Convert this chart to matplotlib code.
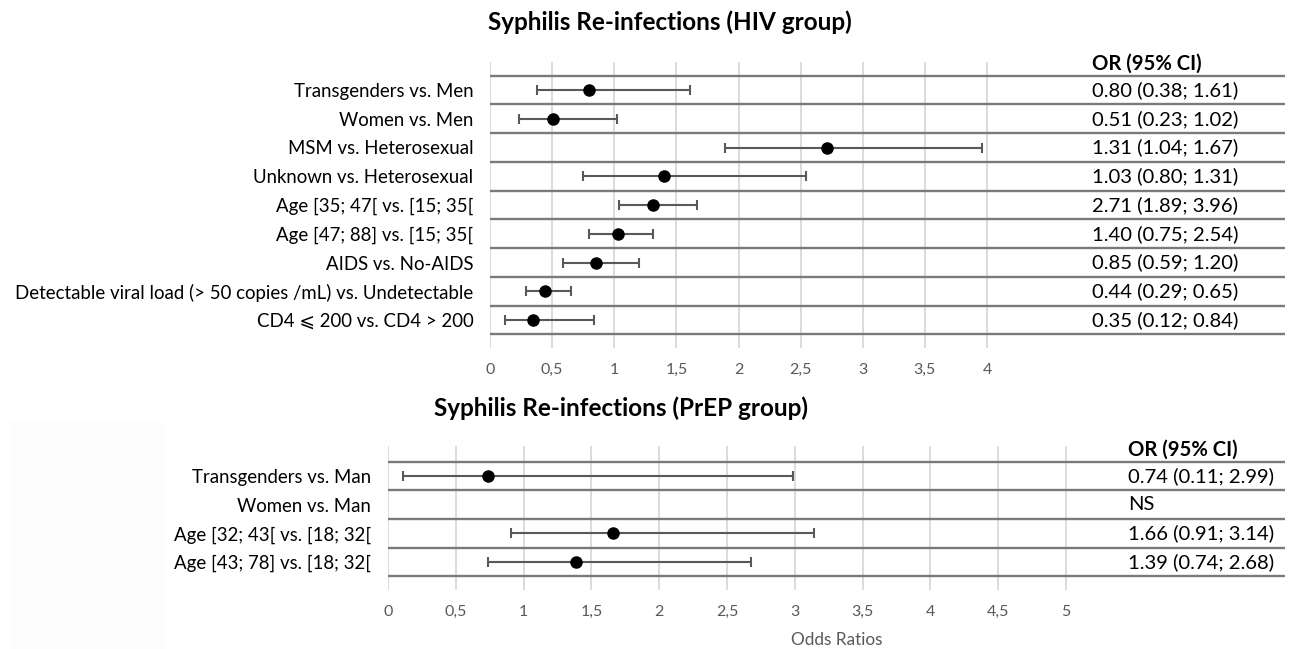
import numpy as np
import matplotlib
matplotlib.use("Agg")
from matplotlib import pyplot as plt
from matplotlib.patches import Rectangle

# ---- DATA ----

# HIV group (plotted values)
hiv_labels = [
    "Transgenders vs. Men",
    "Women vs. Men",
    "MSM vs. Heterosexual",
    "Unknown vs. Heterosexual",
    "Age [35; 47[ vs. [15; 35[",
    "Age [47; 88] vs. [15; 35[",
    "AIDS vs. No-AIDS",
    "Detectable viral load (> 50 copies /mL) vs. Undetectable",
    "CD4 \u2a7d 200 vs. CD4 > 200",
]
hiv_or = [0.80, 0.51, 2.71, 1.40, 1.31, 1.03, 0.85, 0.44, 0.35]
hiv_lo = [0.38, 0.23, 1.89, 0.75, 1.04, 0.80, 0.59, 0.29, 0.12]
hiv_hi = [1.61, 1.02, 3.96, 2.54, 1.67, 1.31, 1.20, 0.65, 0.84]
# table column as printed in the figure
hiv_table = [
    "0.80 (0.38; 1.61)",
    "0.51 (0.23; 1.02)",
    "1.31 (1.04; 1.67)",
    "1.03 (0.80; 1.31)",
    "2.71 (1.89; 3.96)",
    "1.40 (0.75; 2.54)",
    "0.85 (0.59; 1.20)",
    "0.44 (0.29; 0.65)",
    "0.35 (0.12; 0.84)",
]
hiv_ticks = [0, 0.5, 1, 1.5, 2, 2.5, 3, 3.5, 4]

# PrEP group
prep_labels = [
    "Transgenders vs. Man",
    "Women vs. Man",
    "Age [32; 43[ vs. [18; 32[",
    "Age [43; 78] vs. [18; 32[",
]
prep_or = [0.74, np.nan, 1.66, 1.39]
prep_lo = [0.11, np.nan, 0.91, 0.74]
prep_hi = [2.99, np.nan, 3.14, 2.68]
prep_table = [
    "0.74 (0.11; 2.99)",
    "NS",
    "1.66 (0.91; 3.14)",
    "1.39 (0.74; 2.68)",
]
prep_ticks = [0, 0.5, 1, 1.5, 2, 2.5, 3, 3.5, 4, 4.5, 5]

# ---- STYLE ----
plt.rcParams['font.family'] = ['Lato', 'DejaVu Sans']
W, H = 1291, 649
LINE_C = "#7a7a7a"
GRID_C = "#d9d9d9"
ERR_C = "#595959"
TICK_C = "#595959"
LABEL_FS = 13.4
TABLE_FS = 14.6
TICK_FS = 11.5
TITLE_FS = 17.5


def px_box(left, top, right, bottom):
    # figure-fraction box from pixel edges
    return [left / W, 1 - bottom / H, (right - left) / W, (bottom - top) / H]


def to_text(v):
    return f"{v:g}".replace(".", ",")


def forest_panel(fig, box, px_per_unit, row0_px, row_px, top_px, bottom_px,
                 labels, ors, los, his, table, ticks, table_x_px, left_px):
    ax = fig.add_axes(box)
    n = len(labels)
    right_px = box[0] * W + box[2] * W
    ax.set_xlim(0, (right_px - left_px) / px_per_unit)
    ax.set_ylim(n - 1 + (bottom_px - (row0_px + (n - 1) * row_px)) / row_px,
                -(row0_px - top_px) / row_px)

    ax.set_xticks(ticks)
    ax.set_xticklabels([to_text(t) for t in ticks], color=TICK_C, fontsize=TICK_FS)
    ax.set_yticks(range(n))
    ax.set_yticklabels(labels, fontsize=LABEL_FS, color="black")
    ax.tick_params(axis="both", length=0)
    ax.tick_params(axis="x", pad=11)
    ax.tick_params(axis="y", pad=12)
    for s in ax.spines.values():
        s.set_visible(False)

    ax.grid(axis="x", color=GRID_C, lw=1.3)
    ax.set_axisbelow(True)
    ax.hlines(np.arange(n + 1) - 0.5, 0, ax.get_xlim()[1], color=LINE_C, lw=1.7, zorder=1)

    ors = np.asarray(ors, dtype=float)
    los = np.asarray(los, dtype=float)
    his = np.asarray(his, dtype=float)
    ok = ~np.isnan(ors)
    y = np.arange(n)[ok]
    ax.errorbar(ors[ok], y, xerr=[ors[ok] - los[ok], his[ok] - ors[ok]],
                fmt="o", color="black", ecolor=ERR_C, elinewidth=1.5,
                capsize=3.5, capthick=1.5, markersize=8, zorder=3)

    tx = (table_x_px - left_px) / px_per_unit
    ax.text(tx, -0.9, "OR (95% CI)", fontsize=TABLE_FS, fontweight="bold",
            va="center", ha="left")
    for i, t in enumerate(table):
        ax.text(tx, i, t, fontsize=TABLE_FS, va="center", ha="left")
    return ax


fig = plt.figure(figsize=(W / 100, H / 100), dpi=100)

# faint box behind the lower left corner
fig.patches.append(Rectangle((10 / W, 0), 155 / W, 1 - 421 / H,
                             transform=fig.transFigure, facecolor="#fdfdfd",
                             edgecolor="none", zorder=0))

# ---- HIV group ----
forest_panel(fig, px_box(490, 62, 1285, 348), 124.25, 90, 28.75, 62, 348,
             hiv_labels, hiv_or, hiv_lo, hiv_hi, hiv_table, hiv_ticks, 1092, 490)
fig.text(670 / W, 1 - 22 / H, "Syphilis Re-infections (HIV group)",
         fontsize=TITLE_FS, fontweight="bold", ha="center", va="center")

# ---- PrEP group ----
ax2 = forest_panel(fig, px_box(388, 446, 1285, 590), 135.6, 476, 28.7, 446, 590,
                   prep_labels, prep_or, prep_lo, prep_hi, prep_table, prep_ticks, 1128, 388)
ax2.set_xlabel("Odds Ratios", color=TICK_C, fontsize=12.4, labelpad=9)
fig.text(621 / W, 1 - 408 / H, "Syphilis Re-infections (PrEP group)",
         fontsize=TITLE_FS, fontweight="bold", ha="center", va="center")

fig.savefig("out.png", dpi=100)
